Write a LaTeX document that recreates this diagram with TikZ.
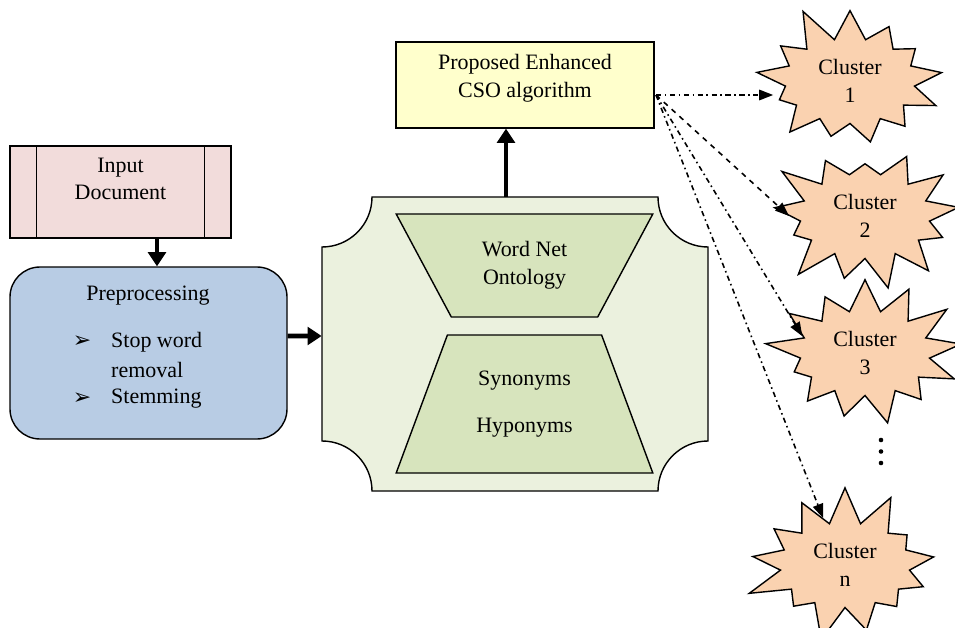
\documentclass[tikz,border=0pt]{standalone}
\usepackage{fontspec}
\setmainfont{Liberation Serif}
\newfontfamily\symfont{DejaVu Sans}
\usetikzlibrary{shapes.geometric,shapes.symbols,arrows.meta,calc}
\definecolor{docpink}{HTML}{F2DCDB}
\definecolor{prepblue}{HTML}{B8CCE4}
\definecolor{plategreen}{HTML}{EBF1DE}
\definecolor{trapgreen}{HTML}{D7E4BD}
\definecolor{csoyellow}{HTML}{FFFFCC}
\definecolor{clpeach}{HTML}{FAD2B0}
\tikzset{
  box/.style={draw, line width=0.8pt},
  fat/.style={line width=2.6pt, -{Triangle[length=8pt,width=10pt]}},
  ray/.style={line width=0.9pt, dash dot, -{Triangle[length=8pt,width=6pt]}},
  trap/.style={box, trapezium, trapezium stretches=true, fill=trapgreen, align=center, minimum width=5.14cm},
  cluster/.style={starburst, draw, fill=clpeach, line width=0.8pt, starburst points=13,
    starburst point height=0.75cm, minimum width=4.1cm, minimum height=3.2cm, align=center, inner sep=0pt}
}
\begin{document}
\begin{tikzpicture}[font=\fontsize{12.5}{15.8}\selectfont]
\useasboundingbox (0,0) rectangle (19.1,-12.56);
% input and preprocessing
\node[box, fill=docpink, minimum width=4.42cm, minimum height=1.84cm] (doc) at (2.41,-3.84) {};
\draw[line width=0.8pt] ([xshift=5.4mm]doc.north west) -- ([xshift=5.4mm]doc.south west);
\draw[line width=0.8pt] ([xshift=-5.4mm]doc.north east) -- ([xshift=-5.4mm]doc.south east);
\node[align=center] (doctext) at (2.41,-3.58) {Input\\Document};
\node[box, rounded corners=0.6cm, fill=prepblue, minimum width=5.54cm, minimum height=3.44cm] (pre) at (2.97,-7.06) {};
\node (pretitle) at (2.96,-5.92) {Preprocessing};
\foreach \t/\y [count=\i] in {Stop word/6.84, removal/7.4, Stemming/7.98}
  \node[anchor=west] (item\i) at (2.1,-\y) {\t};
\foreach \y [count=\i] in {6.84,7.98}
  \node (tick\i) at (1.64,-\y) {\symfont\char"27A2};
% ontology plate
\node[minimum width=7.72cm, minimum height=5.88cm] (plate) at (10.3,-6.88) {};
\draw[box, fill=plategreen] (6.44,-8.82) -- (6.44,-4.94) arc[start angle=-90, end angle=0, radius=1]
  -- (13.16,-3.94) arc[start angle=180, end angle=270, radius=1]
  -- (14.16,-8.82) arc[start angle=90, end angle=180, radius=1]
  -- (7.44,-9.82) arc[start angle=0, end angle=90, radius=1] -- cycle;
\node[trap, shape border rotate=180, trapezium angle=58.4, minimum height=2.06cm] (wordnet) at (10.49,-5.31) {Word Net\\Ontology};
\node[trap, trapezium angle=65.3, minimum height=2.76cm] (relations) at (10.49,-8.08) {Synonyms\\[11pt]Hyponyms};
% algorithm
\node[box, fill=csoyellow, minimum width=5.16cm, minimum height=1.72cm] (cso) at (10.5,-1.7) {};
\node[align=center] (csotext) at (10.5,-1.56) {Proposed Enhanced\\CSO algorithm};
\draw[fat] ([xshift=7.3mm]doc.south) -- ([xshift=7.3mm]doc.south |- pre.north);
\draw[fat] ([yshift=3.4mm]pre.east) -- ([yshift=1.6mm]plate.west);
\draw[fat] ([xshift=-1.8mm]plate.north) -- ([xshift=-1.8mm]plate.north |- cso.south);
% clusters
\node[cluster, random starburst=11] (c1) at (17.0,-1.62) {Cluster\\1};
\node[cluster, random starburst=23] (c2) at (17.3,-4.32) {Cluster\\2};
\node[cluster, random starburst=37] (c3) at (17.3,-7.06) {Cluster\\3};
\node[cluster, random starburst=53] (cn) at (16.9,-11.3) {Cluster\\n};
\foreach \y in {8.8,9.03,9.26}
  \fill (17.62,-\y) circle (1.3pt);
\coordinate (src) at (13.12,-1.9);
\draw[ray] (src) -- (src -| c1.west);
\draw[ray, dashed] (src) -- (c2.west);
\draw[ray] (src) -- (c3.165);
\draw[ray] (src) -- (cn.115);
\end{tikzpicture}
\end{document}
